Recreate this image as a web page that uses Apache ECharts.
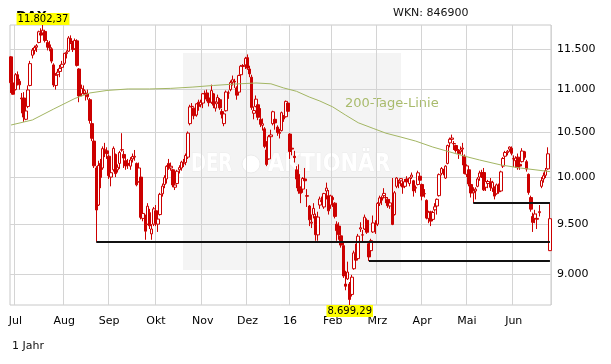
<!DOCTYPE html>
<html><head><meta charset="utf-8">
<script src="https://cdn.jsdelivr.net/npm/echarts@6/dist/echarts.min.js"></script>
<style>html,body{margin:0;padding:0;background:#fff}#c{width:611px;height:364px}</style>
</head><body><div id="c"></div>
<script>
// ---- trading days (categories) ----
const monthKeys = ['2015-06','2015-07','2015-08','2015-09','2015-10','2015-11','2015-12','2016-01','2016-02','2016-03','2016-04','2016-05','2016-06'];
const monthDays = [
  [29,30],
  [1,2,3,6,7,8,9,10,13,14,15,16,17,20,21,22,23,24,27,28,29,30,31],
  [3,4,5,6,7,10,11,12,13,14,17,18,19,20,21,24,25,26,27,28,31],
  [1,2,3,4,7,8,9,10,11,14,15,16,17,18,21,22,23,24,25,28,29,30],
  [1,2,5,6,7,8,9,12,13,14,15,16,19,20,21,22,23,26,27,28,29,30],
  [2,3,4,5,6,9,10,11,12,13,16,17,18,19,20,23,24,25,26,27,30],
  [1,2,3,4,7,8,9,10,11,14,15,16,17,18,21,22,23,28,29,30],
  [4,5,6,7,8,11,12,13,14,15,18,19,20,21,22,25,26,27,28,29],
  [1,2,3,4,5,8,9,10,11,12,15,16,17,18,19,22,23,24,25,26,29],
  [1,2,3,4,7,8,9,10,11,14,15,16,17,18,21,22,23,24,29,30,31],
  [1,4,5,6,7,8,11,12,13,14,15,18,19,20,21,22,25,26,27,28,29],
  [2,3,4,5,6,9,10,11,12,13,16,17,18,19,20,23,24,25,26,27,30,31],
  [1,2,3,6,7,8,9,10,13,14,15,16,17,20,21,22,23,24]
];
const monthLabels = ['16','Feb','Mrz','Apr','Mai','Jun','Jul','Aug','Sep','Okt','Nov','Dez'];

// ---- DAX daily OHLC ----
const opens = [
  11400,11080,
  11000,11180,11100,10900,10900,10650,10800,11050,11420,11480,11520,11580,11700,11700,11720,11580,11550,11500,11300,11050,11180,11220,11270,
  11320,11440,11470,11630,11580,11500,11600,11250,10950,11000,10960,10950,10880,10600,10400,10100,9700,10150,10100,10300,10290,
  10230,10000,10080,10250,10080,10150,10300,10250,10180,10150,10120,10200,10220,10150,9950,10000,9560,9580,9500,9620,9400,9500,
  9640,9500,9600,9820,9920,9980,10150,10100,10080,9890,9930,10080,10100,10150,10160,10220,10600,10800,10780,10700,10850,10820,
  10840,10950,10960,10900,10850,10950,10780,10850,10880,10740,10600,10750,10960,11000,11090,11100,11020,10970,11180,11280,11300,
  11390,11250,11150,10720,10800,10820,10650,10580,10540,10300,10200,10450,10600,10650,10560,10500,10520,10690,10680,10840,
  10480,10320,10230,10080,10030,9880,9870,9980,9800,9690,9510,9600,9580,9390,9700,9750,9680,9850,9800,9700,
  9780,9720,9500,9480,9380,9280,8900,8950,8900,8800,9050,9200,9150,9450,9390,9450,9540,9300,9230,9420,9500,
  9500,9720,9780,9800,9780,9760,9690,9700,9600,9900,9950,9960,9930,9900,9980,9930,10000,9960,9880,9920,10010,
  9920,9820,9750,9560,9630,9550,9650,9690,9800,10040,10060,9990,10150,10380,10420,10370,10350,10290,10280,10310,10230,
  10030,10080,9920,9830,9850,9900,10000,10050,10050,9890,9930,9950,9880,9880,9820,9900,9850,10120,10230,10270,10310,10320,
  10200,10180,10220,10140,10170,10280,10170,10030,9780,9580,9560,9560,9620,9900,9980,10020,10090,9230
];
const highs = [
  11410,11150,
  11200,11220,11130,10960,10970,10800,11050,11350,11510,11540,11560,11730,11760,11802.37,11740,11610,11600,11520,11320,11200,11250,11300,11350,
  11450,11480,11660,11670,11600,11630,11620,11260,11060,11050,10990,11000,10900,10640,10450,10120,10180,10200,10340,10380,10330,
  10250,10100,10340,10260,10140,10290,10490,10290,10220,10200,10220,10260,10300,10160,10160,10020,9680,9600,9720,9660,9500,9680,
  9700,9580,9830,9930,10020,10130,10200,10160,10090,9960,10080,10130,10180,10200,10260,10510,10820,10840,10790,10840,10880,10880,
  10960,10990,11000,10940,11060,10960,10860,10940,10900,10770,10730,10990,10990,11110,11170,11130,11040,11180,11300,11310,11400,
  11430,11290,11180,10800,10930,10830,10780,10660,10560,10400,10470,10530,10750,10680,10580,10540,10740,10700,10870,10850,
  10490,10410,10290,10120,10140,9900,10000,10100,9870,9700,9600,9720,9610,9630,9790,9790,9830,9940,9860,9810,
  9800,9730,9530,9520,9420,9310,9030,9120,8920,8990,9230,9300,9400,9520,9440,9600,9560,9320,9350,9590,9540,
  9730,9800,9800,9880,9800,9780,9760,9990,9850,10000,9970,9990,9960,9980,10010,10000,10050,9970,9910,10070,10040,
  9930,9870,9760,9640,9640,9640,9720,9770,10040,10110,10090,10130,10360,10440,10474,10400,10360,10310,10340,10380,10250,
  10140,10090,9940,9890,9890,10000,10070,10080,10100,9980,9970,9990,9960,9900,9930,9930,10070,10220,10290,10300,10340,10340,
  10240,10230,10260,10180,10320,10290,10190,10040,9800,9620,9650,9610,9700,10000,10050,10100,10330,9720
];
const lows = [
  10960,10940,
  10990,11050,11000,10720,10620,10640,10780,11040,11380,11430,11460,11570,11650,11680,11580,11480,11470,11320,11030,11000,11120,11150,11250,
  11300,11380,11460,11560,11460,11490,11280,10850,10920,10940,10870,10880,10600,10400,10100,9320,9690,9880,10080,10220,10200,
  9980,9900,10060,10000,10050,10090,10280,10100,10080,10090,10080,10160,10180,9900,9940,9550,9530,9340,9490,9450,9340,9480,
  9480,9420,9590,9790,9880,9930,10080,10070,9890,9860,9920,10040,10070,10110,10130,10200,10580,10760,10650,10680,10750,10790,
  10780,10880,10860,10800,10830,10780,10740,10830,10760,10660,10570,10740,10890,10980,11050,11020,10880,10960,11160,11240,11250,
  11240,11150,10760,10650,10790,10640,10560,10520,10320,10120,10190,10420,10580,10530,10460,10430,10510,10620,10670,10740,
  10200,10240,10160,9880,9820,9720,9830,9930,9680,9480,9460,9560,9330,9330,9660,9700,9660,9760,9600,9660,
  9680,9560,9330,9340,9260,8960,8840,8940,8699.29,8780,9040,9110,9140,9420,9320,9440,9400,9127,9200,9410,9400,
  9480,9690,9700,9770,9720,9670,9660,9490,9590,9880,9880,9900,9820,9880,9930,9900,9980,9790,9830,9910,9940,
  9750,9780,9550,9510,9480,9530,9630,9600,9790,10020,10020,9980,10140,10330,10390,10300,10270,10200,10250,10130,10030,
  10000,9900,9780,9722,9760,9890,9960,9990,9850,9850,9880,9850,9840,9760,9810,9820,9840,10100,10200,10240,10280,10240,
  10110,10100,10080,10080,10160,10190,10060,9810,9630,9420,9510,9450,9580,9880,9940,9990,10080,9226
];
const closes = [
  11083,10945,
  11180,11099,11058,10890,10676,10747,10996,11316,11484,11516,11539,11716,11673,11735,11604,11520,11513,11347,11056,11173,11211,11257,11308,
  11443,11456,11637,11585,11490,11604,11294,10925,11015,10985,10940,10915,10636,10432,10124,9648,10128,9997,10315,10298,10259,
  10016,10048,10318,10038,10108,10271,10303,10210,10123,10131,10188,10227,10229,9916,10100,9571,9612,9428,9688,9483,9450,9660,
  9509,9553,9814,9902,9994,10118,10096,10119,9915,9915,10064,10104,10165,10147,10238,10491,10795,10801,10692,10831,10800,10850,
  10951,10951,10887,10845,10988,10815,10833,10907,10783,10708,10713,10971,10960,11085,11119,11092,10934,11170,11285,11293,11382,
  11261,11190,10789,10752,10886,10673,10592,10599,10340,10139,10450,10470,10738,10608,10498,10489,10727,10653,10860,10743,
  10283,10310,10214,9979,9849,9825,9985,9960,9794,9545,9521,9665,9392,9574,9764,9736,9822,9881,9639,9798,
  9757,9581,9434,9393,9286,8979,8879,9017,8752,8967,9207,9135,9377,9463,9388,9573,9417,9167,9331,9513,9495,
  9717,9776,9751,9824,9778,9693,9723,9498,9831,9990,9933,9983,9892,9950,9948,9990,10022,9851,9888,10047,9966,
  9794,9822,9563,9624,9530,9622,9682,9761,10027,10094,10051,10120,10350,10421,10435,10373,10294,10260,10300,10321,10039,
  10123,9926,9828,9851,9870,9980,10045,10022,9862,9952,9952,9890,9943,9795,9916,9842,10057,10205,10272,10286,10333,10263,
  10204,10209,10103,10121,10288,10217,10088,9834,9657,9519,9606,9551,9631,9962,10015,10071,10257,9557
];

// ---- 200-day line (read at intervals) ----
const ma200Dates = ['2015-06-29','2015-07-13','2015-07-27','2015-08-10','2015-08-19','2015-08-31','2015-09-14','2015-09-28','2015-10-12','2015-10-26','2015-11-09','2015-11-23','2015-12-07','2015-12-16','2015-12-28','2016-01-07','2016-01-15','2016-01-22','2016-02-01','2016-02-09','2016-02-17','2016-02-26','2016-03-07','2016-03-16','2016-03-29','2016-04-08','2016-04-20','2016-04-29','2016-05-10','2016-05-24','2016-06-06','2016-06-15','2016-06-24'];
const ma200Values = [10584,10642,10770,10895,10960,10990,11008,11008,11015,11030,11050,11067,11080,11070,11020,10980,10912,10864,10795,10700,10610,10545,10490,10446,10400,10333,10278,10230,10188,10133,10100,10080,10060];

// ---- support lines ----
const supportStart = ['2015-08-24','2016-02-24','2016-05-05'];
const supportLevel = [9320, 9127, 9722];

const yTicks = [9000, 9500, 10000, 10500, 11000, 11500];

// ---- build ----
const dates = [];
monthKeys.forEach((m, i) => monthDays[i].forEach(d => dates.push(m + '-' + String(d).padStart(2, '0'))));
const isMonthStart = dates.map((d, i) => i > 0 && d.slice(0, 7) !== dates[i - 1].slice(0, 7));
const last = dates[dates.length - 1];

function fmtDe(v, dec) {
  const s = v.toFixed(dec);
  const parts = s.split('.');
  const intPart = parts[0].replace(/\B(?=(\d{3})+(?!\d))/g, '.');
  return parts[1] ? intPart + ',' + parts[1] : intPart;
}
let iMax = 0, iMin = 0;
highs.forEach((h, i) => { if (h > highs[iMax]) iMax = i; });
lows.forEach((l, i) => { if (l < lows[iMin]) iMin = i; });
const yMin = lows[iMin], yMax = highs[iMax];

const FONT = 'DejaVu Sans';
const RED = '#cc0000';

const chart = echarts.init(document.getElementById('c'), null, {renderer: 'canvas'});
chart.setOption({
  animation: false,
  backgroundColor: '#ffffff',
  title: {text: 'DAX', left: 11, top: 5, z: 0, textStyle: {fontFamily: FONT, fontSize: 13, fontWeight: 'bold', color: '#000'}},
  grid: {left: 10, right: 60, top: 25, bottom: 59, show: true, borderColor: '#c8c8c8', borderWidth: 1, backgroundColor: 'transparent'},
  graphic: [
    {type: 'rect', z: -10, shape: {x: 183, y: 53, width: 218, height: 217}, style: {fill: '#f4f4f4'}},
    {type: 'text', z: -9, x: 191, y: 164, scaleX: 0.72, style: {text: 'DER', font: 'bold 25px "DejaVu Sans"', fill: '#ffffff', stroke: '#ececec', lineWidth: 1, verticalAlign: 'middle'}},
    {type: 'circle', z: -9, shape: {cx: 251, cy: 164, r: 9}, style: {fill: '#ffffff', stroke: '#ececec', lineWidth: 1}},
    {type: 'text', z: -9, x: 268, y: 164, scaleX: 0.84, style: {text: 'AKTIONÄR', font: 'bold 25px "DejaVu Sans"', fill: '#ffffff', stroke: '#ececec', lineWidth: 1, verticalAlign: 'middle'}},
    {type: 'text', left: 393, top: 8, style: {text: 'WKN: 846900', font: '11px "DejaVu Sans"', fill: '#111'}},
    {type: 'text', left: 12, top: 341, style: {text: '1 Jahr', font: '11px "DejaVu Sans"', fill: '#111'}},
    {type: 'text', left: 345, top: 97, style: {text: '200-Tage-Linie', font: '13px "DejaVu Sans"', fill: '#a9bb6c'}}
  ],
  xAxis: {
    type: 'category', data: dates, boundaryGap: true,
    axisLine: {show: false}, axisTick: {show: false},
    axisLabel: {interval: (i) => isMonthStart[i], margin: 11, fontFamily: FONT, fontSize: 11, color: '#000',
      formatter: (v) => monthLabels[(parseInt(v.slice(5, 7), 10) + 11) % 12]},
    splitLine: {show: true, interval: (i) => isMonthStart[i], lineStyle: {color: '#d4d4d4', width: 1}}
  },
  yAxis: {
    type: 'log', logBase: 10, min: yMin, max: yMax, position: 'right',
    axisLine: {show: false}, axisTick: {show: false, customValues: yTicks},
    axisLabel: {customValues: yTicks, margin: 6, fontFamily: FONT, fontSize: 11, color: '#000', formatter: (v) => fmtDe(v, 0)},
    splitLine: {show: true, lineStyle: {color: '#d4d4d4', width: 1}}
  },
  series: [
    {
      type: 'candlestick', z: 3, barWidth: 3,
      data: dates.map((d, i) => [opens[i], closes[i], lows[i], highs[i]]),
      itemStyle: {color: '#ffffff', color0: RED, borderColor: RED, borderColor0: RED, borderWidth: 1},
      markPoint: {
        symbol: 'rect', symbolSize: 0, z: 10,
        label: {show: true, fontFamily: FONT, fontSize: 10, color: '#000', backgroundColor: '#ffff00', padding: [1, 1, 0, 1], lineHeight: 11},
        data: [
          {coord: [dates[iMax], yMax], value: yMax, label: {position: 'top', distance: 0, formatter: fmtDe(yMax, 2)}},
          {coord: [dates[iMin], yMin], value: yMin, label: {position: 'bottom', distance: 0, formatter: fmtDe(yMin, 2)}}
        ]
      }
    },
    {
      type: 'line', z: 4, showSymbol: false, symbol: 'none', silent: true,
      data: ma200Dates.map((d, i) => [d, ma200Values[i]]),
      lineStyle: {color: '#a3b663', width: 1}
    },
    {
      type: 'line', z: 5, data: [], silent: true,
      markLine: {
        silent: true, symbol: 'none', label: {show: false},
        lineStyle: {color: '#111', width: 2, type: 'solid'},
        data: supportStart.map((s, i) => [{coord: [s, supportLevel[i]]}, {coord: [last, supportLevel[i]]}])
      }
    }
  ]
});
</script></body></html>
